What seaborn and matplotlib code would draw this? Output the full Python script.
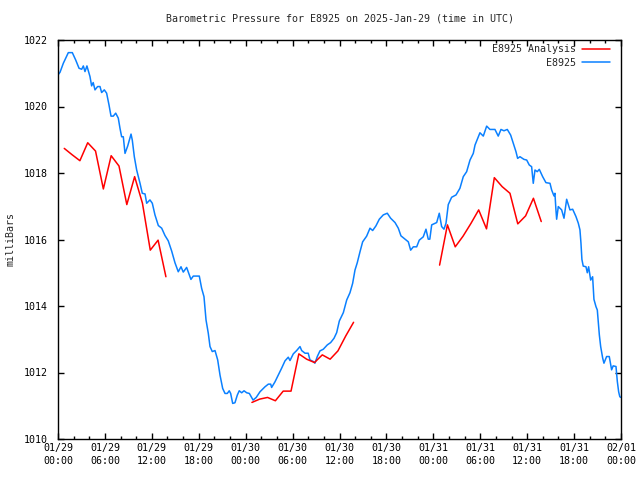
import matplotlib
matplotlib.use("Agg")
import matplotlib.pyplot as plt
import matplotlib.dates as mdates
from matplotlib.lines import Line2D
import pandas as pd
import seaborn as sns

start = pd.Timestamp("2025-01-29 00:00")

# station readings (hours after start, mb)
station_hours = [
    0.0, 0.26, 0.68, 1.32, 1.83, 2.26, 2.69, 3.03, 3.24, 3.45, 3.7, 4.09, 4.3, 4.5,
    4.73, 5.07, 5.37, 5.58, 5.92, 6.22, 6.52, 6.78, 7.07, 7.38, 7.71, 7.93, 8.14,
    8.35, 8.57, 8.91, 9.34, 9.5, 9.76, 10.06, 10.49, 10.78, 11.13, 11.34, 11.76,
    12.06, 12.4, 12.83, 13.26, 13.68, 14.1, 14.54, 14.96, 15.38, 15.73, 16.02,
    16.45, 17.0, 17.3, 18.07, 18.37, 18.67, 18.93, 19.22, 19.44, 19.73, 20.08,
    20.42, 20.72, 21.06, 21.36, 21.65, 21.9, 22.08, 22.34, 22.63, 22.93, 23.18,
    23.49, 23.79, 24.13, 24.47, 24.95, 25.35, 25.83, 26.47, 26.9, 27.2, 27.32,
    27.75, 28.17, 28.6, 29.03, 29.45, 29.67, 30.09, 30.52, 30.95, 31.16, 31.59,
    32.0, 32.22, 32.65, 32.86, 33.16, 33.5, 33.93, 34.44, 34.87, 35.3, 35.64,
    35.98, 36.49, 36.92, 37.34, 37.68, 37.98, 38.27, 38.62, 38.96, 39.47, 39.9,
    40.24, 40.66, 41.09, 41.6, 42.11, 42.54, 43.1, 43.52, 43.86, 44.37, 44.8,
    45.1, 45.44, 45.87, 46.2, 46.71, 47.06, 47.35, 47.55, 47.79, 48.43, 48.76,
    49.06, 49.36, 49.62, 49.91, 50.34, 50.9, 51.4, 51.83, 52.26, 52.69, 53.11,
    53.33, 53.75, 53.96, 54.39, 54.82, 55.24, 55.88, 56.3, 56.65, 57.03, 57.46,
    57.89, 58.23, 58.57, 58.78, 59.08, 59.59, 59.94, 60.27, 60.57, 60.78, 61.0,
    61.29, 61.55, 61.98, 62.4, 62.92, 63.13, 63.43, 63.55, 63.68, 63.77, 63.98,
    64.41, 64.71, 65.05, 65.47, 65.82, 66.24, 66.54, 66.75, 66.88, 67.0, 67.17,
    67.52, 67.69, 67.86, 68.12, 68.37, 68.54, 68.8, 68.97, 69.23, 69.4, 69.66,
    69.82, 70.16, 70.5, 70.8, 71.0, 71.36, 71.53, 71.7, 71.85, 72.0,
]
station_mb = [
    1020.95, 1021.03, 1021.30, 1021.62, 1021.62, 1021.40, 1021.15, 1021.12,
    1021.22, 1021.05, 1021.22, 1020.90, 1020.62, 1020.72, 1020.50, 1020.60,
    1020.60, 1020.42, 1020.50, 1020.40, 1020.05, 1019.71, 1019.71, 1019.80,
    1019.65, 1019.34, 1019.09, 1019.09, 1018.59, 1018.81, 1019.17, 1018.99,
    1018.49, 1018.09, 1017.69, 1017.39, 1017.37, 1017.09, 1017.19, 1017.09,
    1016.74, 1016.42, 1016.34, 1016.12, 1015.96, 1015.65, 1015.30, 1015.03,
    1015.18, 1015.02, 1015.16, 1014.80, 1014.90, 1014.90, 1014.53, 1014.28,
    1013.58, 1013.18, 1012.78, 1012.63, 1012.66, 1012.38, 1011.92, 1011.52,
    1011.37, 1011.37, 1011.45, 1011.37, 1011.07, 1011.09, 1011.32, 1011.45,
    1011.39, 1011.45, 1011.39, 1011.37, 1011.17, 1011.25, 1011.42, 1011.57,
    1011.65, 1011.65, 1011.55, 1011.72, 1011.92, 1012.13, 1012.35, 1012.46,
    1012.36, 1012.56, 1012.66, 1012.78, 1012.66, 1012.58, 1012.58, 1012.38,
    1012.33, 1012.28, 1012.48, 1012.65, 1012.70, 1012.83, 1012.90, 1013.03,
    1013.20, 1013.55, 1013.80, 1014.18, 1014.40, 1014.68, 1015.08, 1015.30,
    1015.63, 1015.93, 1016.10, 1016.34, 1016.27, 1016.41, 1016.61, 1016.74,
    1016.79, 1016.64, 1016.51, 1016.34, 1016.11, 1016.01, 1015.93, 1015.68,
    1015.78, 1015.78, 1015.98, 1016.08, 1016.31, 1016.01, 1016.01, 1016.44,
    1016.51, 1016.79, 1016.39, 1016.31, 1016.49, 1017.05, 1017.27, 1017.34,
    1017.54, 1017.89, 1018.04, 1018.39, 1018.59, 1018.84, 1019.09, 1019.21,
    1019.11, 1019.41, 1019.31, 1019.31, 1019.11, 1019.31, 1019.27, 1019.31,
    1019.14, 1018.89, 1018.64, 1018.44, 1018.49, 1018.41, 1018.39, 1018.24,
    1018.19, 1017.69, 1018.09, 1018.04, 1018.11, 1017.89, 1017.71, 1017.69,
    1017.49, 1017.31, 1017.39, 1016.89, 1016.61, 1016.99, 1016.89, 1016.64,
    1017.21, 1016.89, 1016.91, 1016.69, 1016.49, 1016.29, 1015.89, 1015.40,
    1015.20, 1015.18, 1015.00, 1015.18, 1014.78, 1014.88, 1014.20, 1013.98,
    1013.88, 1013.13, 1012.78, 1012.43, 1012.28, 1012.48, 1012.48, 1012.08,
    1012.20, 1012.18, 1011.73, 1011.42, 1011.27, 1011.25,
]

# hourly analysis values, three runs
analysis_hours = [
    0.8, 1.8, 2.8, 3.8, 4.8, 5.8, 6.8, 7.8, 8.8, 9.8, 10.8, 11.8, 12.8, 13.8,
    24.8, 25.8, 26.8, 27.8, 28.8, 29.8, 30.8, 31.8, 32.8, 33.8, 34.8, 35.8, 36.8, 37.8,
    48.8, 49.8, 50.8, 51.8, 52.8, 53.8, 54.8, 55.8, 56.8, 57.8, 58.8, 59.8, 60.8, 61.8,
]
analysis_mb = [
    1018.74, 1018.55, 1018.37, 1018.91, 1018.66, 1017.52, 1018.52, 1018.21,
    1017.05, 1017.89, 1017.09, 1015.68, 1015.98, 1014.88,
    1011.10, 1011.20, 1011.25, 1011.15, 1011.44, 1011.44, 1012.56, 1012.40,
    1012.30, 1012.53, 1012.40, 1012.65, 1013.10, 1013.51,
    1015.23, 1016.44, 1015.78, 1016.10, 1016.48, 1016.89, 1016.32, 1017.86,
    1017.59, 1017.39, 1016.47, 1016.71, 1017.24, 1016.54,
]
analysis_run = [0] * 14 + [1] * 14 + [2] * 14

legend_labels = ["E8925 Analysis", "E8925"]

red = "#ff0000"
blue = "#0a80ff"

sns.set_theme(style="ticks")
plt.rcParams["font.family"] = ["DejaVu Sans Mono"]

station = pd.DataFrame({
    "time": start + pd.to_timedelta(station_hours, unit="h"),
    "mb": station_mb,
})
analysis = pd.DataFrame({
    "time": start + pd.to_timedelta(analysis_hours, unit="h"),
    "mb": analysis_mb,
    "run": analysis_run,
})

fig = plt.figure(figsize=(6.4, 4.8), dpi=100)
ax = fig.add_axes([58 / 640, 1 - 439 / 480, 563 / 640, 399 / 480])

sns.lineplot(data=station, x="time", y="mb", color=blue, linewidth=1.1, ax=ax)
sns.lineplot(data=analysis, x="time", y="mb", units="run", estimator=None,
             color=red, linewidth=1.1, ax=ax)

ax.set_xlim(start, start + pd.Timedelta(hours=72))
ax.set_ylim(1010, 1022)
ax.set_yticks(range(1010, 1023, 2))
ax.xaxis.set_major_locator(mdates.HourLocator(byhour=[0, 6, 12, 18]))
ax.xaxis.set_minor_locator(mdates.HourLocator(byhour=range(0, 24, 2)))
ax.xaxis.set_major_formatter(mdates.DateFormatter("%m/%d\n%H:%M"))

ax.tick_params(which="both", direction="in", top=True, right=True,
               labelsize=7.2, colors="black", width=1)
ax.tick_params(which="major", length=4.5)
ax.tick_params(which="minor", length=2.5)
ax.tick_params(axis="x", which="major", pad=3)
ax.tick_params(axis="y", which="major", pad=7)
for lab in ax.get_xticklabels():
    lab.set_linespacing(1.35)
for sp in ax.spines.values():
    sp.set_color("black")
    sp.set_linewidth(1)

ax.set_xlabel("")
ax.set_ylabel("milliBars", fontsize=7.2, labelpad=6)
ax.set_title("Barometric Pressure for E8925 on 2025-Jan-29 (time in UTC)",
             fontsize=7.2, pad=13)

# monospace font: pad labels so they sit right-justified like gnuplot keys
width = max(len(s) for s in legend_labels)
handles = [Line2D([], [], color=red, linewidth=1.1),
           Line2D([], [], color=blue, linewidth=1.1)]
ax.legend(handles, [s.rjust(width) for s in legend_labels], loc="upper right",
          bbox_to_anchor=(1 - 7 / 563, 1), borderaxespad=0, borderpad=0.45,
          frameon=False, markerfirst=False, fontsize=7.2,
          handlelength=2.8, handletextpad=0.6, labelspacing=0.35)

fig.savefig("out.png", dpi=100, facecolor="white")
